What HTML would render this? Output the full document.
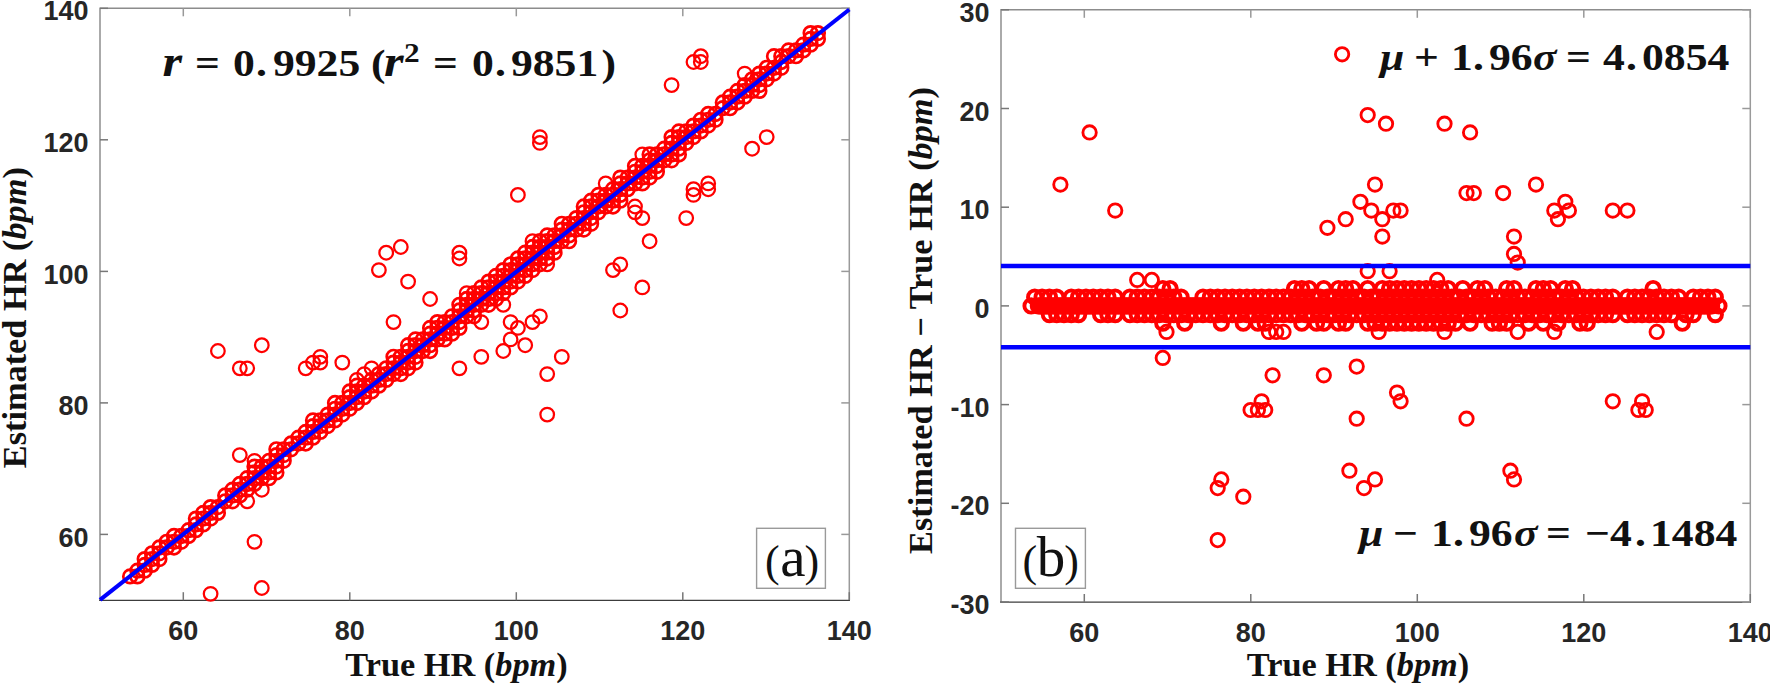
<!DOCTYPE html>
<html><head><meta charset="utf-8"><title>HR plots</title>
<style>
html,body{margin:0;padding:0;background:#fff;}
svg{display:block;}
.tk{font-family:"Liberation Sans",sans-serif;font-weight:bold;font-size:27.0px;fill:#262626;}
.lb{font-family:"Liberation Serif",serif;font-weight:bold;font-size:34.3px;fill:#111;}
.eq{font-family:"Liberation Serif",serif;font-weight:bold;font-size:39px;fill:#111;}
.pn{font-family:"Liberation Serif",serif;font-size:44px;fill:#111;}
.c{fill:none;stroke:#f00;stroke-width:2.85;}
.b{stroke-width:3.9;}
.b2{stroke-width:2.7;}
.l{stroke-width:2.25;}
</style></head><body>
<svg width="1770" height="685" viewBox="0 0 1770 685">
<rect width="1770" height="685" fill="#fff"/>
<g fill="none" stroke-width="1.5"><path d="M99.3 8.3H850.0" stroke="#8c8c8c"/><path d="M849.3 8.3V600.2" stroke="#9a9a9a"/><path d="M100.0 8.3V600.2" stroke="#a6a6a6" stroke-width="1.9"/><path d="M99.1 600.4H850.0" stroke="#3c3c3c" stroke-width="1.3"/><path d="M183.3 8.3v8" stroke="#999"/><path d="M183.3 600.2v-8" stroke="#777"/><path d="M349.8 8.3v8" stroke="#999"/><path d="M349.8 600.2v-8" stroke="#777"/><path d="M516.3 8.3v8" stroke="#999"/><path d="M516.3 600.2v-8" stroke="#777"/><path d="M682.8 8.3v8" stroke="#999"/><path d="M682.8 600.2v-8" stroke="#777"/><path d="M849.3 8.3v8" stroke="#999"/><path d="M849.3 600.2v-8" stroke="#777"/><path d="M849.3 534.4h-8" stroke="#999"/><path d="M100.0 534.4h8" stroke="#777"/><path d="M849.3 402.9h-8" stroke="#999"/><path d="M100.0 402.9h8" stroke="#777"/><path d="M849.3 271.4h-8" stroke="#999"/><path d="M100.0 271.4h8" stroke="#777"/><path d="M849.3 139.8h-8" stroke="#999"/><path d="M100.0 139.8h8" stroke="#777"/><path d="M849.3 8.3h-8" stroke="#999"/><path d="M100.0 8.3h8" stroke="#777"/></g>
<text class="tk" x="183.3" y="639.7" text-anchor="middle">60</text><text class="tk" x="349.8" y="639.7" text-anchor="middle">80</text><text class="tk" x="516.3" y="639.7" text-anchor="middle">100</text><text class="tk" x="682.8" y="639.7" text-anchor="middle">120</text><text class="tk" x="849.3" y="639.7" text-anchor="middle">140</text><text class="tk" x="88.5" y="546.5" text-anchor="end">60</text><text class="tk" x="88.5" y="415.0" text-anchor="end">80</text><text class="tk" x="88.5" y="283.5" text-anchor="end">100</text><text class="tk" x="88.5" y="151.9" text-anchor="end">120</text><text class="tk" x="88.5" y="20.4" text-anchor="end">140</text>
<g fill="none" stroke-width="1.5"><path d="M1000.3 9.8H1751.0" stroke="#8c8c8c"/><path d="M1750.3 9.8V602.0" stroke="#9a9a9a"/><path d="M1001.0 9.8V602.0" stroke="#a6a6a6" stroke-width="1.9"/><path d="M1000.1 602.2H1751.0" stroke="#3c3c3c" stroke-width="1.3"/><path d="M1084.3 9.8v8" stroke="#999"/><path d="M1084.3 602.0v-8" stroke="#777"/><path d="M1250.8 9.8v8" stroke="#999"/><path d="M1250.8 602.0v-8" stroke="#777"/><path d="M1417.3 9.8v8" stroke="#999"/><path d="M1417.3 602.0v-8" stroke="#777"/><path d="M1583.8 9.8v8" stroke="#999"/><path d="M1583.8 602.0v-8" stroke="#777"/><path d="M1750.3 9.8v8" stroke="#999"/><path d="M1750.3 602.0v-8" stroke="#777"/><path d="M1750.3 602.0h-8" stroke="#999"/><path d="M1001.0 602.0h8" stroke="#777"/><path d="M1750.3 503.3h-8" stroke="#999"/><path d="M1001.0 503.3h8" stroke="#777"/><path d="M1750.3 404.6h-8" stroke="#999"/><path d="M1001.0 404.6h8" stroke="#777"/><path d="M1750.3 305.9h-8" stroke="#999"/><path d="M1001.0 305.9h8" stroke="#777"/><path d="M1750.3 207.2h-8" stroke="#999"/><path d="M1001.0 207.2h8" stroke="#777"/><path d="M1750.3 108.5h-8" stroke="#999"/><path d="M1001.0 108.5h8" stroke="#777"/><path d="M1750.3 9.8h-8" stroke="#999"/><path d="M1001.0 9.8h8" stroke="#777"/></g>
<text class="tk" x="1084.3" y="641.5" text-anchor="middle">60</text><text class="tk" x="1250.8" y="641.5" text-anchor="middle">80</text><text class="tk" x="1417.3" y="641.5" text-anchor="middle">100</text><text class="tk" x="1583.8" y="641.5" text-anchor="middle">120</text><text class="tk" x="1750.3" y="641.5" text-anchor="middle">140</text><text class="tk" x="989.5" y="614.1" text-anchor="end">-30</text><text class="tk" x="989.5" y="515.4" text-anchor="end">-20</text><text class="tk" x="989.5" y="416.7" text-anchor="end">-10</text><text class="tk" x="989.5" y="318.0" text-anchor="end">0</text><text class="tk" x="989.5" y="219.3" text-anchor="end">10</text><text class="tk" x="989.5" y="120.6" text-anchor="end">20</text><text class="tk" x="989.5" y="21.9" text-anchor="end">30</text>
<g class="c b2"><circle cx="130.1" cy="576.4" r="6.8"/><circle cx="137.4" cy="576.4" r="6.8"/><circle cx="137.4" cy="570.7" r="6.8"/><circle cx="144.7" cy="570.7" r="6.8"/><circle cx="144.7" cy="564.9" r="6.8"/><circle cx="144.7" cy="559.1" r="6.8"/><circle cx="152.0" cy="564.9" r="6.8"/><circle cx="152.0" cy="559.1" r="6.8"/><circle cx="152.0" cy="553.3" r="6.8"/><circle cx="159.4" cy="559.1" r="6.8"/><circle cx="159.4" cy="553.3" r="6.8"/><circle cx="159.4" cy="547.5" r="6.8"/><circle cx="166.7" cy="547.5" r="6.8"/><circle cx="166.7" cy="541.8" r="6.8"/><circle cx="174.0" cy="547.5" r="6.8"/><circle cx="174.0" cy="541.8" r="6.8"/><circle cx="174.0" cy="536.0" r="6.8"/><circle cx="181.3" cy="541.8" r="6.8"/><circle cx="181.3" cy="536.0" r="6.8"/><circle cx="188.6" cy="536.0" r="6.8"/><circle cx="188.6" cy="530.2" r="6.8"/><circle cx="195.9" cy="530.2" r="6.8"/><circle cx="195.9" cy="524.4" r="6.8"/><circle cx="195.9" cy="518.6" r="6.8"/><circle cx="203.3" cy="524.4" r="6.8"/><circle cx="203.3" cy="518.6" r="6.8"/><circle cx="203.3" cy="512.9" r="6.8"/><circle cx="210.6" cy="518.6" r="6.8"/><circle cx="210.6" cy="512.9" r="6.8"/><circle cx="210.6" cy="507.1" r="6.8"/><circle cx="217.9" cy="512.9" r="6.8"/><circle cx="217.9" cy="507.1" r="6.8"/><circle cx="225.2" cy="501.3" r="6.8"/><circle cx="225.2" cy="495.5" r="6.8"/><circle cx="232.5" cy="501.3" r="6.8"/><circle cx="232.5" cy="495.5" r="6.8"/><circle cx="232.5" cy="489.7" r="6.8"/><circle cx="239.8" cy="495.5" r="6.8"/><circle cx="239.8" cy="489.7" r="6.8"/><circle cx="239.8" cy="484.0" r="6.8"/><circle cx="247.2" cy="489.7" r="6.8"/><circle cx="247.2" cy="484.0" r="6.8"/><circle cx="247.2" cy="478.2" r="6.8"/><circle cx="254.5" cy="484.0" r="6.8"/><circle cx="254.5" cy="478.2" r="6.8"/><circle cx="254.5" cy="472.4" r="6.8"/><circle cx="254.5" cy="466.6" r="6.8"/><circle cx="261.8" cy="478.2" r="6.8"/><circle cx="261.8" cy="472.4" r="6.8"/><circle cx="261.8" cy="466.6" r="6.8"/><circle cx="269.1" cy="478.2" r="6.8"/><circle cx="269.1" cy="472.4" r="6.8"/><circle cx="269.1" cy="466.6" r="6.8"/><circle cx="269.1" cy="460.8" r="6.8"/><circle cx="276.4" cy="472.4" r="6.8"/><circle cx="276.4" cy="466.6" r="6.8"/><circle cx="276.4" cy="460.8" r="6.8"/><circle cx="276.4" cy="455.1" r="6.8"/><circle cx="276.4" cy="449.3" r="6.8"/><circle cx="283.7" cy="460.8" r="6.8"/><circle cx="283.7" cy="455.1" r="6.8"/><circle cx="283.7" cy="449.3" r="6.8"/><circle cx="291.1" cy="449.3" r="6.8"/><circle cx="291.1" cy="443.5" r="6.8"/><circle cx="298.4" cy="443.5" r="6.8"/><circle cx="298.4" cy="437.7" r="6.8"/><circle cx="305.7" cy="443.5" r="6.8"/><circle cx="305.7" cy="437.7" r="6.8"/><circle cx="305.7" cy="431.9" r="6.8"/><circle cx="313.0" cy="437.7" r="6.8"/><circle cx="313.0" cy="431.9" r="6.8"/><circle cx="313.0" cy="426.1" r="6.8"/><circle cx="313.0" cy="420.4" r="6.8"/><circle cx="320.3" cy="431.9" r="6.8"/><circle cx="320.3" cy="426.1" r="6.8"/><circle cx="320.3" cy="420.4" r="6.8"/><circle cx="327.7" cy="426.1" r="6.8"/><circle cx="327.7" cy="420.4" r="6.8"/><circle cx="327.7" cy="414.6" r="6.8"/><circle cx="335.0" cy="420.4" r="6.8"/><circle cx="335.0" cy="414.6" r="6.8"/><circle cx="335.0" cy="408.8" r="6.8"/><circle cx="335.0" cy="403.0" r="6.8"/><circle cx="342.3" cy="414.6" r="6.8"/><circle cx="342.3" cy="408.8" r="6.8"/><circle cx="342.3" cy="403.0" r="6.8"/><circle cx="349.6" cy="408.8" r="6.8"/><circle cx="349.6" cy="403.0" r="6.8"/><circle cx="349.6" cy="397.2" r="6.8"/><circle cx="349.6" cy="391.5" r="6.8"/><circle cx="356.9" cy="403.0" r="6.8"/><circle cx="356.9" cy="397.2" r="6.8"/><circle cx="356.9" cy="391.5" r="6.8"/><circle cx="356.9" cy="385.7" r="6.8"/><circle cx="364.2" cy="397.2" r="6.8"/><circle cx="364.2" cy="391.5" r="6.8"/><circle cx="364.2" cy="385.7" r="6.8"/><circle cx="371.6" cy="391.5" r="6.8"/><circle cx="371.6" cy="385.7" r="6.8"/><circle cx="371.6" cy="379.9" r="6.8"/><circle cx="378.9" cy="385.7" r="6.8"/><circle cx="378.9" cy="379.9" r="6.8"/><circle cx="378.9" cy="374.1" r="6.8"/><circle cx="386.2" cy="379.9" r="6.8"/><circle cx="386.2" cy="374.1" r="6.8"/><circle cx="386.2" cy="368.3" r="6.8"/><circle cx="393.5" cy="374.1" r="6.8"/><circle cx="393.5" cy="368.3" r="6.8"/><circle cx="393.5" cy="362.6" r="6.8"/><circle cx="393.5" cy="356.8" r="6.8"/><circle cx="400.8" cy="374.1" r="6.8"/><circle cx="400.8" cy="368.3" r="6.8"/><circle cx="400.8" cy="362.6" r="6.8"/><circle cx="400.8" cy="356.8" r="6.8"/><circle cx="408.1" cy="368.3" r="6.8"/><circle cx="408.1" cy="362.6" r="6.8"/><circle cx="408.1" cy="356.8" r="6.8"/><circle cx="408.1" cy="351.0" r="6.8"/><circle cx="408.1" cy="345.2" r="6.8"/><circle cx="415.5" cy="362.6" r="6.8"/><circle cx="415.5" cy="356.8" r="6.8"/><circle cx="415.5" cy="351.0" r="6.8"/><circle cx="415.5" cy="345.2" r="6.8"/><circle cx="415.5" cy="339.4" r="6.8"/><circle cx="422.8" cy="351.0" r="6.8"/><circle cx="422.8" cy="345.2" r="6.8"/><circle cx="422.8" cy="339.4" r="6.8"/><circle cx="430.1" cy="351.0" r="6.8"/><circle cx="430.1" cy="345.2" r="6.8"/><circle cx="430.1" cy="339.4" r="6.8"/><circle cx="430.1" cy="333.7" r="6.8"/><circle cx="430.1" cy="327.9" r="6.8"/><circle cx="437.4" cy="339.4" r="6.8"/><circle cx="437.4" cy="333.7" r="6.8"/><circle cx="437.4" cy="327.9" r="6.8"/><circle cx="437.4" cy="322.1" r="6.8"/><circle cx="444.7" cy="339.4" r="6.8"/><circle cx="444.7" cy="333.7" r="6.8"/><circle cx="444.7" cy="327.9" r="6.8"/><circle cx="444.7" cy="322.1" r="6.8"/><circle cx="452.0" cy="333.7" r="6.8"/><circle cx="452.0" cy="327.9" r="6.8"/><circle cx="452.0" cy="322.1" r="6.8"/><circle cx="452.0" cy="316.3" r="6.8"/><circle cx="459.4" cy="327.9" r="6.8"/><circle cx="459.4" cy="322.1" r="6.8"/><circle cx="459.4" cy="316.3" r="6.8"/><circle cx="459.4" cy="310.5" r="6.8"/><circle cx="459.4" cy="304.8" r="6.8"/><circle cx="466.7" cy="316.3" r="6.8"/><circle cx="466.7" cy="310.5" r="6.8"/><circle cx="466.7" cy="304.8" r="6.8"/><circle cx="466.7" cy="299.0" r="6.8"/><circle cx="474.0" cy="316.3" r="6.8"/><circle cx="474.0" cy="310.5" r="6.8"/><circle cx="474.0" cy="304.8" r="6.8"/><circle cx="474.0" cy="299.0" r="6.8"/><circle cx="474.0" cy="293.2" r="6.8"/><circle cx="481.3" cy="304.8" r="6.8"/><circle cx="481.3" cy="299.0" r="6.8"/><circle cx="481.3" cy="293.2" r="6.8"/><circle cx="481.3" cy="287.4" r="6.8"/><circle cx="488.6" cy="304.8" r="6.8"/><circle cx="488.6" cy="299.0" r="6.8"/><circle cx="488.6" cy="293.2" r="6.8"/><circle cx="488.6" cy="287.4" r="6.8"/><circle cx="488.6" cy="281.6" r="6.8"/><circle cx="496.0" cy="299.0" r="6.8"/><circle cx="496.0" cy="293.2" r="6.8"/><circle cx="496.0" cy="287.4" r="6.8"/><circle cx="496.0" cy="281.6" r="6.8"/><circle cx="496.0" cy="275.9" r="6.8"/><circle cx="503.3" cy="293.2" r="6.8"/><circle cx="503.3" cy="287.4" r="6.8"/><circle cx="503.3" cy="281.6" r="6.8"/><circle cx="503.3" cy="275.9" r="6.8"/><circle cx="503.3" cy="270.1" r="6.8"/><circle cx="510.6" cy="287.4" r="6.8"/><circle cx="510.6" cy="281.6" r="6.8"/><circle cx="510.6" cy="275.9" r="6.8"/><circle cx="510.6" cy="270.1" r="6.8"/><circle cx="510.6" cy="264.3" r="6.8"/><circle cx="517.9" cy="281.6" r="6.8"/><circle cx="517.9" cy="275.9" r="6.8"/><circle cx="517.9" cy="270.1" r="6.8"/><circle cx="517.9" cy="264.3" r="6.8"/><circle cx="517.9" cy="258.5" r="6.8"/><circle cx="525.2" cy="275.9" r="6.8"/><circle cx="525.2" cy="270.1" r="6.8"/><circle cx="525.2" cy="264.3" r="6.8"/><circle cx="525.2" cy="258.5" r="6.8"/><circle cx="525.2" cy="252.7" r="6.8"/><circle cx="532.5" cy="270.1" r="6.8"/><circle cx="532.5" cy="264.3" r="6.8"/><circle cx="532.5" cy="258.5" r="6.8"/><circle cx="532.5" cy="252.7" r="6.8"/><circle cx="532.5" cy="247.0" r="6.8"/><circle cx="539.9" cy="264.3" r="6.8"/><circle cx="539.9" cy="258.5" r="6.8"/><circle cx="539.9" cy="252.7" r="6.8"/><circle cx="539.9" cy="247.0" r="6.8"/><circle cx="539.9" cy="241.2" r="6.8"/><circle cx="547.2" cy="258.5" r="6.8"/><circle cx="547.2" cy="252.7" r="6.8"/><circle cx="547.2" cy="247.0" r="6.8"/><circle cx="547.2" cy="241.2" r="6.8"/><circle cx="547.2" cy="235.4" r="6.8"/><circle cx="554.5" cy="252.7" r="6.8"/><circle cx="554.5" cy="247.0" r="6.8"/><circle cx="554.5" cy="241.2" r="6.8"/><circle cx="554.5" cy="235.4" r="6.8"/><circle cx="561.8" cy="241.2" r="6.8"/><circle cx="561.8" cy="235.4" r="6.8"/><circle cx="561.8" cy="229.6" r="6.8"/><circle cx="561.8" cy="223.8" r="6.8"/><circle cx="569.1" cy="241.2" r="6.8"/><circle cx="569.1" cy="235.4" r="6.8"/><circle cx="569.1" cy="229.6" r="6.8"/><circle cx="569.1" cy="223.8" r="6.8"/><circle cx="576.4" cy="229.6" r="6.8"/><circle cx="576.4" cy="223.8" r="6.8"/><circle cx="576.4" cy="218.1" r="6.8"/><circle cx="583.8" cy="229.6" r="6.8"/><circle cx="583.8" cy="223.8" r="6.8"/><circle cx="583.8" cy="218.1" r="6.8"/><circle cx="583.8" cy="212.3" r="6.8"/><circle cx="583.8" cy="206.5" r="6.8"/><circle cx="591.1" cy="223.8" r="6.8"/><circle cx="591.1" cy="218.1" r="6.8"/><circle cx="591.1" cy="212.3" r="6.8"/><circle cx="591.1" cy="206.5" r="6.8"/><circle cx="591.1" cy="200.7" r="6.8"/><circle cx="598.4" cy="212.3" r="6.8"/><circle cx="598.4" cy="206.5" r="6.8"/><circle cx="598.4" cy="200.7" r="6.8"/><circle cx="598.4" cy="194.9" r="6.8"/><circle cx="605.7" cy="206.5" r="6.8"/><circle cx="605.7" cy="200.7" r="6.8"/><circle cx="605.7" cy="194.9" r="6.8"/><circle cx="613.0" cy="206.5" r="6.8"/><circle cx="613.0" cy="200.7" r="6.8"/><circle cx="613.0" cy="194.9" r="6.8"/><circle cx="613.0" cy="189.2" r="6.8"/><circle cx="620.3" cy="200.7" r="6.8"/><circle cx="620.3" cy="194.9" r="6.8"/><circle cx="620.3" cy="189.2" r="6.8"/><circle cx="620.3" cy="183.4" r="6.8"/><circle cx="620.3" cy="177.6" r="6.8"/><circle cx="627.7" cy="189.2" r="6.8"/><circle cx="627.7" cy="183.4" r="6.8"/><circle cx="627.7" cy="177.6" r="6.8"/><circle cx="635.0" cy="183.4" r="6.8"/><circle cx="635.0" cy="177.6" r="6.8"/><circle cx="635.0" cy="171.8" r="6.8"/><circle cx="635.0" cy="166.0" r="6.8"/><circle cx="642.3" cy="183.4" r="6.8"/><circle cx="642.3" cy="177.6" r="6.8"/><circle cx="642.3" cy="171.8" r="6.8"/><circle cx="642.3" cy="166.0" r="6.8"/><circle cx="649.6" cy="177.6" r="6.8"/><circle cx="649.6" cy="171.8" r="6.8"/><circle cx="649.6" cy="166.0" r="6.8"/><circle cx="649.6" cy="160.3" r="6.8"/><circle cx="649.6" cy="154.5" r="6.8"/><circle cx="656.9" cy="171.8" r="6.8"/><circle cx="656.9" cy="166.0" r="6.8"/><circle cx="656.9" cy="160.3" r="6.8"/><circle cx="656.9" cy="154.5" r="6.8"/><circle cx="664.3" cy="160.3" r="6.8"/><circle cx="664.3" cy="154.5" r="6.8"/><circle cx="664.3" cy="148.7" r="6.8"/><circle cx="671.6" cy="160.3" r="6.8"/><circle cx="671.6" cy="154.5" r="6.8"/><circle cx="671.6" cy="148.7" r="6.8"/><circle cx="671.6" cy="142.9" r="6.8"/><circle cx="671.6" cy="137.1" r="6.8"/><circle cx="678.9" cy="154.5" r="6.8"/><circle cx="678.9" cy="148.7" r="6.8"/><circle cx="678.9" cy="142.9" r="6.8"/><circle cx="678.9" cy="137.1" r="6.8"/><circle cx="678.9" cy="131.4" r="6.8"/><circle cx="686.2" cy="142.9" r="6.8"/><circle cx="686.2" cy="137.1" r="6.8"/><circle cx="686.2" cy="131.4" r="6.8"/><circle cx="693.5" cy="137.1" r="6.8"/><circle cx="693.5" cy="131.4" r="6.8"/><circle cx="693.5" cy="125.6" r="6.8"/><circle cx="700.8" cy="131.4" r="6.8"/><circle cx="700.8" cy="125.6" r="6.8"/><circle cx="700.8" cy="119.8" r="6.8"/><circle cx="708.2" cy="125.6" r="6.8"/><circle cx="708.2" cy="119.8" r="6.8"/><circle cx="708.2" cy="114.0" r="6.8"/><circle cx="715.5" cy="119.8" r="6.8"/><circle cx="715.5" cy="114.0" r="6.8"/><circle cx="722.8" cy="108.2" r="6.8"/><circle cx="722.8" cy="102.5" r="6.8"/><circle cx="730.1" cy="108.2" r="6.8"/><circle cx="730.1" cy="102.5" r="6.8"/><circle cx="730.1" cy="96.7" r="6.8"/><circle cx="737.4" cy="102.5" r="6.8"/><circle cx="737.4" cy="96.7" r="6.8"/><circle cx="737.4" cy="90.9" r="6.8"/><circle cx="744.7" cy="96.7" r="6.8"/><circle cx="744.7" cy="90.9" r="6.8"/><circle cx="744.7" cy="85.1" r="6.8"/><circle cx="752.1" cy="90.9" r="6.8"/><circle cx="752.1" cy="85.1" r="6.8"/><circle cx="752.1" cy="79.3" r="6.8"/><circle cx="759.4" cy="90.9" r="6.8"/><circle cx="759.4" cy="85.1" r="6.8"/><circle cx="759.4" cy="79.3" r="6.8"/><circle cx="759.4" cy="73.6" r="6.8"/><circle cx="766.7" cy="79.3" r="6.8"/><circle cx="766.7" cy="73.6" r="6.8"/><circle cx="766.7" cy="67.8" r="6.8"/><circle cx="774.0" cy="73.6" r="6.8"/><circle cx="774.0" cy="67.8" r="6.8"/><circle cx="774.0" cy="56.2" r="6.8"/><circle cx="781.3" cy="67.8" r="6.8"/><circle cx="781.3" cy="62.0" r="6.8"/><circle cx="781.3" cy="56.2" r="6.8"/><circle cx="788.6" cy="56.2" r="6.8"/><circle cx="788.6" cy="50.4" r="6.8"/><circle cx="796.0" cy="56.2" r="6.8"/><circle cx="796.0" cy="50.4" r="6.8"/><circle cx="803.3" cy="50.4" r="6.8"/><circle cx="803.3" cy="44.7" r="6.8"/><circle cx="810.6" cy="44.7" r="6.8"/><circle cx="810.6" cy="38.9" r="6.8"/><circle cx="810.6" cy="33.1" r="6.8"/><circle cx="817.9" cy="38.9" r="6.8"/><circle cx="817.9" cy="33.1" r="6.8"/></g>
<g class="c l"><circle cx="210.6" cy="593.8" r="6.8"/><circle cx="217.9" cy="351.0" r="6.8"/><circle cx="239.8" cy="455.1" r="6.8"/><circle cx="239.8" cy="368.3" r="6.8"/><circle cx="247.2" cy="501.3" r="6.8"/><circle cx="247.2" cy="368.3" r="6.8"/><circle cx="254.5" cy="541.8" r="6.8"/><circle cx="254.5" cy="460.8" r="6.8"/><circle cx="261.8" cy="588.0" r="6.8"/><circle cx="261.8" cy="489.7" r="6.8"/><circle cx="261.8" cy="345.2" r="6.8"/><circle cx="305.7" cy="368.3" r="6.8"/><circle cx="313.0" cy="362.6" r="6.8"/><circle cx="320.3" cy="362.6" r="6.8"/><circle cx="320.3" cy="356.8" r="6.8"/><circle cx="342.3" cy="362.6" r="6.8"/><circle cx="356.9" cy="379.9" r="6.8"/><circle cx="364.2" cy="374.1" r="6.8"/><circle cx="371.6" cy="368.3" r="6.8"/><circle cx="378.9" cy="270.1" r="6.8"/><circle cx="386.2" cy="252.7" r="6.8"/><circle cx="393.5" cy="322.1" r="6.8"/><circle cx="400.8" cy="247.0" r="6.8"/><circle cx="408.1" cy="281.6" r="6.8"/><circle cx="430.1" cy="299.0" r="6.8"/><circle cx="459.4" cy="368.3" r="6.8"/><circle cx="459.4" cy="258.5" r="6.8"/><circle cx="459.4" cy="252.7" r="6.8"/><circle cx="466.7" cy="293.2" r="6.8"/><circle cx="481.3" cy="356.8" r="6.8"/><circle cx="481.3" cy="322.1" r="6.8"/><circle cx="503.3" cy="351.0" r="6.8"/><circle cx="503.3" cy="304.8" r="6.8"/><circle cx="510.6" cy="339.4" r="6.8"/><circle cx="510.6" cy="322.1" r="6.8"/><circle cx="517.9" cy="327.9" r="6.8"/><circle cx="517.9" cy="194.9" r="6.8"/><circle cx="525.2" cy="345.2" r="6.8"/><circle cx="532.5" cy="322.1" r="6.8"/><circle cx="532.5" cy="241.2" r="6.8"/><circle cx="539.9" cy="316.3" r="6.8"/><circle cx="539.9" cy="142.9" r="6.8"/><circle cx="539.9" cy="137.1" r="6.8"/><circle cx="547.2" cy="414.6" r="6.8"/><circle cx="547.2" cy="374.1" r="6.8"/><circle cx="547.2" cy="264.3" r="6.8"/><circle cx="561.8" cy="356.8" r="6.8"/><circle cx="605.7" cy="183.4" r="6.8"/><circle cx="613.0" cy="270.1" r="6.8"/><circle cx="620.3" cy="310.5" r="6.8"/><circle cx="620.3" cy="264.3" r="6.8"/><circle cx="635.0" cy="212.3" r="6.8"/><circle cx="635.0" cy="206.5" r="6.8"/><circle cx="642.3" cy="287.4" r="6.8"/><circle cx="642.3" cy="218.1" r="6.8"/><circle cx="642.3" cy="154.5" r="6.8"/><circle cx="649.6" cy="241.2" r="6.8"/><circle cx="671.6" cy="85.1" r="6.8"/><circle cx="686.2" cy="218.1" r="6.8"/><circle cx="693.5" cy="194.9" r="6.8"/><circle cx="693.5" cy="189.2" r="6.8"/><circle cx="693.5" cy="62.0" r="6.8"/><circle cx="700.8" cy="62.0" r="6.8"/><circle cx="700.8" cy="56.2" r="6.8"/><circle cx="708.2" cy="189.2" r="6.8"/><circle cx="708.2" cy="183.4" r="6.8"/><circle cx="744.7" cy="73.6" r="6.8"/><circle cx="752.1" cy="148.7" r="6.8"/><circle cx="766.7" cy="137.1" r="6.8"/></g>
<path d="M100.0 599.8L849.3 9.5" stroke="#0000ff" stroke-width="4.1" fill="none"/>
<g class="c b"><circle cx="1031.1" cy="305.9" r="6.7"/><circle cx="1034.7" cy="297.2" r="6.7"/><circle cx="1038.4" cy="305.9" r="6.7"/><circle cx="1040.2" cy="305.9" r="6.7"/><circle cx="1042.1" cy="305.9" r="6.7"/><circle cx="1043.9" cy="305.9" r="6.7"/><circle cx="1042.1" cy="297.2" r="6.7"/><circle cx="1045.7" cy="305.9" r="6.7"/><circle cx="1049.4" cy="314.6" r="6.7"/><circle cx="1047.5" cy="305.9" r="6.7"/><circle cx="1049.4" cy="305.9" r="6.7"/><circle cx="1051.2" cy="305.9" r="6.7"/><circle cx="1049.4" cy="297.2" r="6.7"/><circle cx="1053.0" cy="305.9" r="6.7"/><circle cx="1056.7" cy="314.6" r="6.7"/><circle cx="1054.9" cy="305.9" r="6.7"/><circle cx="1056.7" cy="305.9" r="6.7"/><circle cx="1058.5" cy="305.9" r="6.7"/><circle cx="1056.7" cy="297.2" r="6.7"/><circle cx="1060.4" cy="305.9" r="6.7"/><circle cx="1064.0" cy="314.6" r="6.7"/><circle cx="1062.2" cy="305.9" r="6.7"/><circle cx="1064.0" cy="305.9" r="6.7"/><circle cx="1065.8" cy="305.9" r="6.7"/><circle cx="1067.7" cy="305.9" r="6.7"/><circle cx="1071.3" cy="314.6" r="6.7"/><circle cx="1069.5" cy="305.9" r="6.7"/><circle cx="1071.3" cy="305.9" r="6.7"/><circle cx="1073.2" cy="305.9" r="6.7"/><circle cx="1071.3" cy="297.2" r="6.7"/><circle cx="1075.0" cy="305.9" r="6.7"/><circle cx="1078.6" cy="314.6" r="6.7"/><circle cx="1076.8" cy="305.9" r="6.7"/><circle cx="1078.6" cy="305.9" r="6.7"/><circle cx="1080.5" cy="305.9" r="6.7"/><circle cx="1078.6" cy="297.2" r="6.7"/><circle cx="1082.3" cy="305.9" r="6.7"/><circle cx="1084.1" cy="305.9" r="6.7"/><circle cx="1086.0" cy="305.9" r="6.7"/><circle cx="1087.8" cy="305.9" r="6.7"/><circle cx="1086.0" cy="297.2" r="6.7"/><circle cx="1089.6" cy="305.9" r="6.7"/><circle cx="1091.5" cy="305.9" r="6.7"/><circle cx="1093.3" cy="305.9" r="6.7"/><circle cx="1095.1" cy="305.9" r="6.7"/><circle cx="1093.3" cy="297.2" r="6.7"/><circle cx="1096.9" cy="305.9" r="6.7"/><circle cx="1100.6" cy="314.6" r="6.7"/><circle cx="1098.8" cy="305.9" r="6.7"/><circle cx="1100.6" cy="305.9" r="6.7"/><circle cx="1102.4" cy="305.9" r="6.7"/><circle cx="1100.6" cy="297.2" r="6.7"/><circle cx="1104.3" cy="305.9" r="6.7"/><circle cx="1107.9" cy="314.6" r="6.7"/><circle cx="1106.1" cy="305.9" r="6.7"/><circle cx="1107.9" cy="305.9" r="6.7"/><circle cx="1109.7" cy="305.9" r="6.7"/><circle cx="1107.9" cy="297.2" r="6.7"/><circle cx="1111.6" cy="305.9" r="6.7"/><circle cx="1115.2" cy="314.6" r="6.7"/><circle cx="1113.4" cy="305.9" r="6.7"/><circle cx="1115.2" cy="305.9" r="6.7"/><circle cx="1117.1" cy="305.9" r="6.7"/><circle cx="1115.2" cy="297.2" r="6.7"/><circle cx="1118.9" cy="305.9" r="6.7"/><circle cx="1120.7" cy="305.9" r="6.7"/><circle cx="1122.5" cy="305.9" r="6.7"/><circle cx="1124.4" cy="305.9" r="6.7"/><circle cx="1126.2" cy="305.9" r="6.7"/><circle cx="1129.9" cy="314.6" r="6.7"/><circle cx="1128.0" cy="305.9" r="6.7"/><circle cx="1129.9" cy="305.9" r="6.7"/><circle cx="1131.7" cy="305.9" r="6.7"/><circle cx="1129.9" cy="297.2" r="6.7"/><circle cx="1133.5" cy="305.9" r="6.7"/><circle cx="1137.2" cy="314.6" r="6.7"/><circle cx="1135.4" cy="305.9" r="6.7"/><circle cx="1137.2" cy="305.9" r="6.7"/><circle cx="1139.0" cy="305.9" r="6.7"/><circle cx="1137.2" cy="297.2" r="6.7"/><circle cx="1140.8" cy="305.9" r="6.7"/><circle cx="1144.5" cy="314.6" r="6.7"/><circle cx="1142.7" cy="305.9" r="6.7"/><circle cx="1144.5" cy="305.9" r="6.7"/><circle cx="1146.3" cy="305.9" r="6.7"/><circle cx="1144.5" cy="297.2" r="6.7"/><circle cx="1148.2" cy="305.9" r="6.7"/><circle cx="1151.8" cy="314.6" r="6.7"/><circle cx="1150.0" cy="305.9" r="6.7"/><circle cx="1151.8" cy="305.9" r="6.7"/><circle cx="1153.6" cy="305.9" r="6.7"/><circle cx="1151.8" cy="297.2" r="6.7"/><circle cx="1155.5" cy="305.9" r="6.7"/><circle cx="1159.1" cy="314.6" r="6.7"/><circle cx="1162.8" cy="323.2" r="6.7"/><circle cx="1157.3" cy="305.9" r="6.7"/><circle cx="1159.1" cy="305.9" r="6.7"/><circle cx="1161.0" cy="305.9" r="6.7"/><circle cx="1159.1" cy="297.2" r="6.7"/><circle cx="1162.8" cy="305.9" r="6.7"/><circle cx="1166.5" cy="314.6" r="6.7"/><circle cx="1164.6" cy="305.9" r="6.7"/><circle cx="1166.5" cy="305.9" r="6.7"/><circle cx="1168.3" cy="305.9" r="6.7"/><circle cx="1162.8" cy="288.6" r="6.7"/><circle cx="1166.5" cy="297.2" r="6.7"/><circle cx="1170.1" cy="305.9" r="6.7"/><circle cx="1173.8" cy="314.6" r="6.7"/><circle cx="1171.9" cy="305.9" r="6.7"/><circle cx="1173.8" cy="305.9" r="6.7"/><circle cx="1175.6" cy="305.9" r="6.7"/><circle cx="1170.1" cy="288.6" r="6.7"/><circle cx="1173.8" cy="297.2" r="6.7"/><circle cx="1177.4" cy="305.9" r="6.7"/><circle cx="1181.1" cy="314.6" r="6.7"/><circle cx="1184.7" cy="323.2" r="6.7"/><circle cx="1179.3" cy="305.9" r="6.7"/><circle cx="1181.1" cy="305.9" r="6.7"/><circle cx="1182.9" cy="305.9" r="6.7"/><circle cx="1181.1" cy="297.2" r="6.7"/><circle cx="1184.7" cy="305.9" r="6.7"/><circle cx="1188.4" cy="314.6" r="6.7"/><circle cx="1186.6" cy="305.9" r="6.7"/><circle cx="1188.4" cy="305.9" r="6.7"/><circle cx="1190.2" cy="305.9" r="6.7"/><circle cx="1192.1" cy="305.9" r="6.7"/><circle cx="1195.7" cy="314.6" r="6.7"/><circle cx="1193.9" cy="305.9" r="6.7"/><circle cx="1195.7" cy="305.9" r="6.7"/><circle cx="1197.6" cy="305.9" r="6.7"/><circle cx="1199.4" cy="305.9" r="6.7"/><circle cx="1203.0" cy="314.6" r="6.7"/><circle cx="1201.2" cy="305.9" r="6.7"/><circle cx="1203.0" cy="305.9" r="6.7"/><circle cx="1204.9" cy="305.9" r="6.7"/><circle cx="1203.0" cy="297.2" r="6.7"/><circle cx="1206.7" cy="305.9" r="6.7"/><circle cx="1210.4" cy="314.6" r="6.7"/><circle cx="1208.5" cy="305.9" r="6.7"/><circle cx="1210.4" cy="305.9" r="6.7"/><circle cx="1212.2" cy="305.9" r="6.7"/><circle cx="1210.4" cy="297.2" r="6.7"/><circle cx="1214.0" cy="305.9" r="6.7"/><circle cx="1217.7" cy="314.6" r="6.7"/><circle cx="1221.3" cy="323.2" r="6.7"/><circle cx="1215.8" cy="305.9" r="6.7"/><circle cx="1217.7" cy="305.9" r="6.7"/><circle cx="1219.5" cy="305.9" r="6.7"/><circle cx="1217.7" cy="297.2" r="6.7"/><circle cx="1221.3" cy="305.9" r="6.7"/><circle cx="1225.0" cy="314.6" r="6.7"/><circle cx="1223.2" cy="305.9" r="6.7"/><circle cx="1225.0" cy="305.9" r="6.7"/><circle cx="1226.8" cy="305.9" r="6.7"/><circle cx="1225.0" cy="297.2" r="6.7"/><circle cx="1228.7" cy="305.9" r="6.7"/><circle cx="1232.3" cy="314.6" r="6.7"/><circle cx="1230.5" cy="305.9" r="6.7"/><circle cx="1232.3" cy="305.9" r="6.7"/><circle cx="1234.1" cy="305.9" r="6.7"/><circle cx="1232.3" cy="297.2" r="6.7"/><circle cx="1236.0" cy="305.9" r="6.7"/><circle cx="1239.6" cy="314.6" r="6.7"/><circle cx="1243.3" cy="323.2" r="6.7"/><circle cx="1237.8" cy="305.9" r="6.7"/><circle cx="1239.6" cy="305.9" r="6.7"/><circle cx="1241.5" cy="305.9" r="6.7"/><circle cx="1239.6" cy="297.2" r="6.7"/><circle cx="1243.3" cy="305.9" r="6.7"/><circle cx="1246.9" cy="314.6" r="6.7"/><circle cx="1245.1" cy="305.9" r="6.7"/><circle cx="1246.9" cy="305.9" r="6.7"/><circle cx="1248.8" cy="305.9" r="6.7"/><circle cx="1246.9" cy="297.2" r="6.7"/><circle cx="1250.6" cy="305.9" r="6.7"/><circle cx="1254.3" cy="314.6" r="6.7"/><circle cx="1257.9" cy="323.2" r="6.7"/><circle cx="1252.4" cy="305.9" r="6.7"/><circle cx="1254.3" cy="305.9" r="6.7"/><circle cx="1256.1" cy="305.9" r="6.7"/><circle cx="1254.3" cy="297.2" r="6.7"/><circle cx="1257.9" cy="305.9" r="6.7"/><circle cx="1261.6" cy="314.6" r="6.7"/><circle cx="1265.2" cy="323.2" r="6.7"/><circle cx="1259.8" cy="305.9" r="6.7"/><circle cx="1261.6" cy="305.9" r="6.7"/><circle cx="1263.4" cy="305.9" r="6.7"/><circle cx="1261.6" cy="297.2" r="6.7"/><circle cx="1265.2" cy="305.9" r="6.7"/><circle cx="1268.9" cy="314.6" r="6.7"/><circle cx="1267.1" cy="305.9" r="6.7"/><circle cx="1268.9" cy="305.9" r="6.7"/><circle cx="1270.7" cy="305.9" r="6.7"/><circle cx="1268.9" cy="297.2" r="6.7"/><circle cx="1272.6" cy="305.9" r="6.7"/><circle cx="1276.2" cy="314.6" r="6.7"/><circle cx="1274.4" cy="305.9" r="6.7"/><circle cx="1276.2" cy="305.9" r="6.7"/><circle cx="1278.0" cy="305.9" r="6.7"/><circle cx="1276.2" cy="297.2" r="6.7"/><circle cx="1279.9" cy="305.9" r="6.7"/><circle cx="1283.5" cy="314.6" r="6.7"/><circle cx="1281.7" cy="305.9" r="6.7"/><circle cx="1283.5" cy="305.9" r="6.7"/><circle cx="1285.4" cy="305.9" r="6.7"/><circle cx="1283.5" cy="297.2" r="6.7"/><circle cx="1287.2" cy="305.9" r="6.7"/><circle cx="1290.8" cy="314.6" r="6.7"/><circle cx="1289.0" cy="305.9" r="6.7"/><circle cx="1290.8" cy="305.9" r="6.7"/><circle cx="1292.7" cy="305.9" r="6.7"/><circle cx="1290.8" cy="297.2" r="6.7"/><circle cx="1294.5" cy="305.9" r="6.7"/><circle cx="1298.2" cy="314.6" r="6.7"/><circle cx="1301.8" cy="323.2" r="6.7"/><circle cx="1296.3" cy="305.9" r="6.7"/><circle cx="1298.2" cy="305.9" r="6.7"/><circle cx="1300.0" cy="305.9" r="6.7"/><circle cx="1294.5" cy="288.6" r="6.7"/><circle cx="1298.2" cy="297.2" r="6.7"/><circle cx="1301.8" cy="305.9" r="6.7"/><circle cx="1305.5" cy="314.6" r="6.7"/><circle cx="1303.7" cy="305.9" r="6.7"/><circle cx="1305.5" cy="305.9" r="6.7"/><circle cx="1307.3" cy="305.9" r="6.7"/><circle cx="1301.8" cy="288.6" r="6.7"/><circle cx="1305.5" cy="297.2" r="6.7"/><circle cx="1309.1" cy="305.9" r="6.7"/><circle cx="1312.8" cy="314.6" r="6.7"/><circle cx="1316.5" cy="323.2" r="6.7"/><circle cx="1311.0" cy="305.9" r="6.7"/><circle cx="1312.8" cy="305.9" r="6.7"/><circle cx="1314.6" cy="305.9" r="6.7"/><circle cx="1309.1" cy="288.6" r="6.7"/><circle cx="1312.8" cy="297.2" r="6.7"/><circle cx="1316.5" cy="305.9" r="6.7"/><circle cx="1320.1" cy="314.6" r="6.7"/><circle cx="1323.8" cy="323.2" r="6.7"/><circle cx="1318.3" cy="305.9" r="6.7"/><circle cx="1320.1" cy="305.9" r="6.7"/><circle cx="1321.9" cy="305.9" r="6.7"/><circle cx="1320.1" cy="297.2" r="6.7"/><circle cx="1323.8" cy="305.9" r="6.7"/><circle cx="1327.4" cy="314.6" r="6.7"/><circle cx="1325.6" cy="305.9" r="6.7"/><circle cx="1327.4" cy="305.9" r="6.7"/><circle cx="1329.3" cy="305.9" r="6.7"/><circle cx="1323.8" cy="288.6" r="6.7"/><circle cx="1327.4" cy="297.2" r="6.7"/><circle cx="1331.1" cy="305.9" r="6.7"/><circle cx="1334.8" cy="314.6" r="6.7"/><circle cx="1338.4" cy="323.2" r="6.7"/><circle cx="1332.9" cy="305.9" r="6.7"/><circle cx="1334.8" cy="305.9" r="6.7"/><circle cx="1336.6" cy="305.9" r="6.7"/><circle cx="1334.8" cy="297.2" r="6.7"/><circle cx="1338.4" cy="305.9" r="6.7"/><circle cx="1342.1" cy="314.6" r="6.7"/><circle cx="1345.7" cy="323.2" r="6.7"/><circle cx="1340.2" cy="305.9" r="6.7"/><circle cx="1342.1" cy="305.9" r="6.7"/><circle cx="1343.9" cy="305.9" r="6.7"/><circle cx="1338.4" cy="288.6" r="6.7"/><circle cx="1342.1" cy="297.2" r="6.7"/><circle cx="1345.7" cy="305.9" r="6.7"/><circle cx="1349.4" cy="314.6" r="6.7"/><circle cx="1347.6" cy="305.9" r="6.7"/><circle cx="1349.4" cy="305.9" r="6.7"/><circle cx="1351.2" cy="305.9" r="6.7"/><circle cx="1345.7" cy="288.6" r="6.7"/><circle cx="1349.4" cy="297.2" r="6.7"/><circle cx="1353.0" cy="305.9" r="6.7"/><circle cx="1356.7" cy="314.6" r="6.7"/><circle cx="1354.9" cy="305.9" r="6.7"/><circle cx="1356.7" cy="305.9" r="6.7"/><circle cx="1358.5" cy="305.9" r="6.7"/><circle cx="1353.0" cy="288.6" r="6.7"/><circle cx="1356.7" cy="297.2" r="6.7"/><circle cx="1360.4" cy="305.9" r="6.7"/><circle cx="1364.0" cy="314.6" r="6.7"/><circle cx="1367.7" cy="323.2" r="6.7"/><circle cx="1362.2" cy="305.9" r="6.7"/><circle cx="1364.0" cy="305.9" r="6.7"/><circle cx="1365.9" cy="305.9" r="6.7"/><circle cx="1364.0" cy="297.2" r="6.7"/><circle cx="1367.7" cy="305.9" r="6.7"/><circle cx="1371.3" cy="314.6" r="6.7"/><circle cx="1375.0" cy="323.2" r="6.7"/><circle cx="1369.5" cy="305.9" r="6.7"/><circle cx="1371.3" cy="305.9" r="6.7"/><circle cx="1373.2" cy="305.9" r="6.7"/><circle cx="1367.7" cy="288.6" r="6.7"/><circle cx="1371.3" cy="297.2" r="6.7"/><circle cx="1375.0" cy="305.9" r="6.7"/><circle cx="1378.7" cy="314.6" r="6.7"/><circle cx="1382.3" cy="323.2" r="6.7"/><circle cx="1376.8" cy="305.9" r="6.7"/><circle cx="1378.7" cy="305.9" r="6.7"/><circle cx="1380.5" cy="305.9" r="6.7"/><circle cx="1378.7" cy="297.2" r="6.7"/><circle cx="1382.3" cy="305.9" r="6.7"/><circle cx="1386.0" cy="314.6" r="6.7"/><circle cx="1389.6" cy="323.2" r="6.7"/><circle cx="1384.1" cy="305.9" r="6.7"/><circle cx="1386.0" cy="305.9" r="6.7"/><circle cx="1387.8" cy="305.9" r="6.7"/><circle cx="1382.3" cy="288.6" r="6.7"/><circle cx="1386.0" cy="297.2" r="6.7"/><circle cx="1389.6" cy="305.9" r="6.7"/><circle cx="1393.3" cy="314.6" r="6.7"/><circle cx="1397.0" cy="323.2" r="6.7"/><circle cx="1391.5" cy="305.9" r="6.7"/><circle cx="1393.3" cy="305.9" r="6.7"/><circle cx="1395.1" cy="305.9" r="6.7"/><circle cx="1389.6" cy="288.6" r="6.7"/><circle cx="1393.3" cy="297.2" r="6.7"/><circle cx="1397.0" cy="305.9" r="6.7"/><circle cx="1400.6" cy="314.6" r="6.7"/><circle cx="1404.3" cy="323.2" r="6.7"/><circle cx="1398.8" cy="305.9" r="6.7"/><circle cx="1400.6" cy="305.9" r="6.7"/><circle cx="1402.4" cy="305.9" r="6.7"/><circle cx="1397.0" cy="288.6" r="6.7"/><circle cx="1400.6" cy="297.2" r="6.7"/><circle cx="1404.3" cy="305.9" r="6.7"/><circle cx="1407.9" cy="314.6" r="6.7"/><circle cx="1411.6" cy="323.2" r="6.7"/><circle cx="1406.1" cy="305.9" r="6.7"/><circle cx="1407.9" cy="305.9" r="6.7"/><circle cx="1409.8" cy="305.9" r="6.7"/><circle cx="1404.3" cy="288.6" r="6.7"/><circle cx="1407.9" cy="297.2" r="6.7"/><circle cx="1411.6" cy="305.9" r="6.7"/><circle cx="1415.2" cy="314.6" r="6.7"/><circle cx="1418.9" cy="323.2" r="6.7"/><circle cx="1413.4" cy="305.9" r="6.7"/><circle cx="1415.2" cy="305.9" r="6.7"/><circle cx="1417.1" cy="305.9" r="6.7"/><circle cx="1411.6" cy="288.6" r="6.7"/><circle cx="1415.2" cy="297.2" r="6.7"/><circle cx="1418.9" cy="305.9" r="6.7"/><circle cx="1422.6" cy="314.6" r="6.7"/><circle cx="1426.2" cy="323.2" r="6.7"/><circle cx="1420.7" cy="305.9" r="6.7"/><circle cx="1422.6" cy="305.9" r="6.7"/><circle cx="1424.4" cy="305.9" r="6.7"/><circle cx="1418.9" cy="288.6" r="6.7"/><circle cx="1422.6" cy="297.2" r="6.7"/><circle cx="1426.2" cy="305.9" r="6.7"/><circle cx="1429.9" cy="314.6" r="6.7"/><circle cx="1433.5" cy="323.2" r="6.7"/><circle cx="1428.1" cy="305.9" r="6.7"/><circle cx="1429.9" cy="305.9" r="6.7"/><circle cx="1431.7" cy="305.9" r="6.7"/><circle cx="1426.2" cy="288.6" r="6.7"/><circle cx="1429.9" cy="297.2" r="6.7"/><circle cx="1433.5" cy="305.9" r="6.7"/><circle cx="1437.2" cy="314.6" r="6.7"/><circle cx="1440.9" cy="323.2" r="6.7"/><circle cx="1435.4" cy="305.9" r="6.7"/><circle cx="1437.2" cy="305.9" r="6.7"/><circle cx="1439.0" cy="305.9" r="6.7"/><circle cx="1433.5" cy="288.6" r="6.7"/><circle cx="1437.2" cy="297.2" r="6.7"/><circle cx="1440.9" cy="305.9" r="6.7"/><circle cx="1444.5" cy="314.6" r="6.7"/><circle cx="1448.2" cy="323.2" r="6.7"/><circle cx="1442.7" cy="305.9" r="6.7"/><circle cx="1444.5" cy="305.9" r="6.7"/><circle cx="1446.3" cy="305.9" r="6.7"/><circle cx="1440.9" cy="288.6" r="6.7"/><circle cx="1444.5" cy="297.2" r="6.7"/><circle cx="1448.2" cy="305.9" r="6.7"/><circle cx="1451.8" cy="314.6" r="6.7"/><circle cx="1455.5" cy="323.2" r="6.7"/><circle cx="1450.0" cy="305.9" r="6.7"/><circle cx="1451.8" cy="305.9" r="6.7"/><circle cx="1453.7" cy="305.9" r="6.7"/><circle cx="1448.2" cy="288.6" r="6.7"/><circle cx="1451.8" cy="297.2" r="6.7"/><circle cx="1455.5" cy="305.9" r="6.7"/><circle cx="1459.1" cy="314.6" r="6.7"/><circle cx="1457.3" cy="305.9" r="6.7"/><circle cx="1459.1" cy="305.9" r="6.7"/><circle cx="1461.0" cy="305.9" r="6.7"/><circle cx="1459.1" cy="297.2" r="6.7"/><circle cx="1462.8" cy="305.9" r="6.7"/><circle cx="1466.5" cy="314.6" r="6.7"/><circle cx="1470.1" cy="323.2" r="6.7"/><circle cx="1464.6" cy="305.9" r="6.7"/><circle cx="1466.5" cy="305.9" r="6.7"/><circle cx="1468.3" cy="305.9" r="6.7"/><circle cx="1462.8" cy="288.6" r="6.7"/><circle cx="1466.5" cy="297.2" r="6.7"/><circle cx="1470.1" cy="305.9" r="6.7"/><circle cx="1473.8" cy="314.6" r="6.7"/><circle cx="1472.0" cy="305.9" r="6.7"/><circle cx="1473.8" cy="305.9" r="6.7"/><circle cx="1475.6" cy="305.9" r="6.7"/><circle cx="1473.8" cy="297.2" r="6.7"/><circle cx="1477.4" cy="305.9" r="6.7"/><circle cx="1481.1" cy="314.6" r="6.7"/><circle cx="1479.3" cy="305.9" r="6.7"/><circle cx="1481.1" cy="305.9" r="6.7"/><circle cx="1482.9" cy="305.9" r="6.7"/><circle cx="1477.4" cy="288.6" r="6.7"/><circle cx="1481.1" cy="297.2" r="6.7"/><circle cx="1484.8" cy="305.9" r="6.7"/><circle cx="1488.4" cy="314.6" r="6.7"/><circle cx="1492.1" cy="323.2" r="6.7"/><circle cx="1486.6" cy="305.9" r="6.7"/><circle cx="1488.4" cy="305.9" r="6.7"/><circle cx="1490.2" cy="305.9" r="6.7"/><circle cx="1484.8" cy="288.6" r="6.7"/><circle cx="1488.4" cy="297.2" r="6.7"/><circle cx="1492.1" cy="305.9" r="6.7"/><circle cx="1495.7" cy="314.6" r="6.7"/><circle cx="1499.4" cy="323.2" r="6.7"/><circle cx="1493.9" cy="305.9" r="6.7"/><circle cx="1495.7" cy="305.9" r="6.7"/><circle cx="1497.6" cy="305.9" r="6.7"/><circle cx="1495.7" cy="297.2" r="6.7"/><circle cx="1499.4" cy="305.9" r="6.7"/><circle cx="1503.1" cy="314.6" r="6.7"/><circle cx="1506.7" cy="323.2" r="6.7"/><circle cx="1501.2" cy="305.9" r="6.7"/><circle cx="1503.1" cy="305.9" r="6.7"/><circle cx="1504.9" cy="305.9" r="6.7"/><circle cx="1503.1" cy="297.2" r="6.7"/><circle cx="1506.7" cy="305.9" r="6.7"/><circle cx="1510.4" cy="314.6" r="6.7"/><circle cx="1508.5" cy="305.9" r="6.7"/><circle cx="1510.4" cy="305.9" r="6.7"/><circle cx="1512.2" cy="305.9" r="6.7"/><circle cx="1506.7" cy="288.6" r="6.7"/><circle cx="1510.4" cy="297.2" r="6.7"/><circle cx="1514.0" cy="305.9" r="6.7"/><circle cx="1517.7" cy="314.6" r="6.7"/><circle cx="1515.9" cy="305.9" r="6.7"/><circle cx="1517.7" cy="305.9" r="6.7"/><circle cx="1519.5" cy="305.9" r="6.7"/><circle cx="1514.0" cy="288.6" r="6.7"/><circle cx="1517.7" cy="297.2" r="6.7"/><circle cx="1521.3" cy="305.9" r="6.7"/><circle cx="1525.0" cy="314.6" r="6.7"/><circle cx="1528.7" cy="323.2" r="6.7"/><circle cx="1523.2" cy="305.9" r="6.7"/><circle cx="1525.0" cy="305.9" r="6.7"/><circle cx="1526.8" cy="305.9" r="6.7"/><circle cx="1525.0" cy="297.2" r="6.7"/><circle cx="1528.7" cy="305.9" r="6.7"/><circle cx="1532.3" cy="314.6" r="6.7"/><circle cx="1530.5" cy="305.9" r="6.7"/><circle cx="1532.3" cy="305.9" r="6.7"/><circle cx="1534.2" cy="305.9" r="6.7"/><circle cx="1532.3" cy="297.2" r="6.7"/><circle cx="1536.0" cy="305.9" r="6.7"/><circle cx="1539.6" cy="314.6" r="6.7"/><circle cx="1543.3" cy="323.2" r="6.7"/><circle cx="1537.8" cy="305.9" r="6.7"/><circle cx="1539.6" cy="305.9" r="6.7"/><circle cx="1541.5" cy="305.9" r="6.7"/><circle cx="1536.0" cy="288.6" r="6.7"/><circle cx="1539.6" cy="297.2" r="6.7"/><circle cx="1543.3" cy="305.9" r="6.7"/><circle cx="1547.0" cy="314.6" r="6.7"/><circle cx="1545.1" cy="305.9" r="6.7"/><circle cx="1547.0" cy="305.9" r="6.7"/><circle cx="1548.8" cy="305.9" r="6.7"/><circle cx="1543.3" cy="288.6" r="6.7"/><circle cx="1547.0" cy="297.2" r="6.7"/><circle cx="1550.6" cy="305.9" r="6.7"/><circle cx="1554.3" cy="314.6" r="6.7"/><circle cx="1557.9" cy="323.2" r="6.7"/><circle cx="1552.4" cy="305.9" r="6.7"/><circle cx="1554.3" cy="305.9" r="6.7"/><circle cx="1556.1" cy="305.9" r="6.7"/><circle cx="1550.6" cy="288.6" r="6.7"/><circle cx="1554.3" cy="297.2" r="6.7"/><circle cx="1557.9" cy="305.9" r="6.7"/><circle cx="1561.6" cy="314.6" r="6.7"/><circle cx="1559.8" cy="305.9" r="6.7"/><circle cx="1561.6" cy="305.9" r="6.7"/><circle cx="1563.4" cy="305.9" r="6.7"/><circle cx="1561.6" cy="297.2" r="6.7"/><circle cx="1565.3" cy="305.9" r="6.7"/><circle cx="1568.9" cy="314.6" r="6.7"/><circle cx="1567.1" cy="305.9" r="6.7"/><circle cx="1568.9" cy="305.9" r="6.7"/><circle cx="1570.7" cy="305.9" r="6.7"/><circle cx="1565.3" cy="288.6" r="6.7"/><circle cx="1568.9" cy="297.2" r="6.7"/><circle cx="1572.6" cy="305.9" r="6.7"/><circle cx="1576.2" cy="314.6" r="6.7"/><circle cx="1579.9" cy="323.2" r="6.7"/><circle cx="1574.4" cy="305.9" r="6.7"/><circle cx="1576.2" cy="305.9" r="6.7"/><circle cx="1578.1" cy="305.9" r="6.7"/><circle cx="1572.6" cy="288.6" r="6.7"/><circle cx="1576.2" cy="297.2" r="6.7"/><circle cx="1579.9" cy="305.9" r="6.7"/><circle cx="1583.5" cy="314.6" r="6.7"/><circle cx="1587.2" cy="323.2" r="6.7"/><circle cx="1581.7" cy="305.9" r="6.7"/><circle cx="1583.5" cy="305.9" r="6.7"/><circle cx="1585.4" cy="305.9" r="6.7"/><circle cx="1583.5" cy="297.2" r="6.7"/><circle cx="1587.2" cy="305.9" r="6.7"/><circle cx="1590.9" cy="314.6" r="6.7"/><circle cx="1589.0" cy="305.9" r="6.7"/><circle cx="1590.9" cy="305.9" r="6.7"/><circle cx="1592.7" cy="305.9" r="6.7"/><circle cx="1590.9" cy="297.2" r="6.7"/><circle cx="1594.5" cy="305.9" r="6.7"/><circle cx="1598.2" cy="314.6" r="6.7"/><circle cx="1596.4" cy="305.9" r="6.7"/><circle cx="1598.2" cy="305.9" r="6.7"/><circle cx="1600.0" cy="305.9" r="6.7"/><circle cx="1598.2" cy="297.2" r="6.7"/><circle cx="1601.8" cy="305.9" r="6.7"/><circle cx="1605.5" cy="314.6" r="6.7"/><circle cx="1603.7" cy="305.9" r="6.7"/><circle cx="1605.5" cy="305.9" r="6.7"/><circle cx="1607.3" cy="305.9" r="6.7"/><circle cx="1605.5" cy="297.2" r="6.7"/><circle cx="1609.2" cy="305.9" r="6.7"/><circle cx="1612.8" cy="314.6" r="6.7"/><circle cx="1611.0" cy="305.9" r="6.7"/><circle cx="1612.8" cy="305.9" r="6.7"/><circle cx="1614.6" cy="305.9" r="6.7"/><circle cx="1612.8" cy="297.2" r="6.7"/><circle cx="1616.5" cy="305.9" r="6.7"/><circle cx="1618.3" cy="305.9" r="6.7"/><circle cx="1620.1" cy="305.9" r="6.7"/><circle cx="1622.0" cy="305.9" r="6.7"/><circle cx="1623.8" cy="305.9" r="6.7"/><circle cx="1627.4" cy="314.6" r="6.7"/><circle cx="1625.6" cy="305.9" r="6.7"/><circle cx="1627.4" cy="305.9" r="6.7"/><circle cx="1629.3" cy="305.9" r="6.7"/><circle cx="1627.4" cy="297.2" r="6.7"/><circle cx="1631.1" cy="305.9" r="6.7"/><circle cx="1634.8" cy="314.6" r="6.7"/><circle cx="1632.9" cy="305.9" r="6.7"/><circle cx="1634.8" cy="305.9" r="6.7"/><circle cx="1636.6" cy="305.9" r="6.7"/><circle cx="1634.8" cy="297.2" r="6.7"/><circle cx="1638.4" cy="305.9" r="6.7"/><circle cx="1642.1" cy="314.6" r="6.7"/><circle cx="1640.3" cy="305.9" r="6.7"/><circle cx="1642.1" cy="305.9" r="6.7"/><circle cx="1643.9" cy="305.9" r="6.7"/><circle cx="1642.1" cy="297.2" r="6.7"/><circle cx="1645.7" cy="305.9" r="6.7"/><circle cx="1649.4" cy="314.6" r="6.7"/><circle cx="1647.6" cy="305.9" r="6.7"/><circle cx="1649.4" cy="305.9" r="6.7"/><circle cx="1651.2" cy="305.9" r="6.7"/><circle cx="1649.4" cy="297.2" r="6.7"/><circle cx="1653.1" cy="305.9" r="6.7"/><circle cx="1656.7" cy="314.6" r="6.7"/><circle cx="1654.9" cy="305.9" r="6.7"/><circle cx="1656.7" cy="305.9" r="6.7"/><circle cx="1658.5" cy="305.9" r="6.7"/><circle cx="1653.1" cy="288.6" r="6.7"/><circle cx="1656.7" cy="297.2" r="6.7"/><circle cx="1660.4" cy="305.9" r="6.7"/><circle cx="1664.0" cy="314.6" r="6.7"/><circle cx="1662.2" cy="305.9" r="6.7"/><circle cx="1664.0" cy="305.9" r="6.7"/><circle cx="1665.9" cy="305.9" r="6.7"/><circle cx="1664.0" cy="297.2" r="6.7"/><circle cx="1667.7" cy="305.9" r="6.7"/><circle cx="1671.4" cy="314.6" r="6.7"/><circle cx="1669.5" cy="305.9" r="6.7"/><circle cx="1671.4" cy="305.9" r="6.7"/><circle cx="1673.2" cy="305.9" r="6.7"/><circle cx="1671.4" cy="297.2" r="6.7"/><circle cx="1675.0" cy="305.9" r="6.7"/><circle cx="1682.3" cy="323.2" r="6.7"/><circle cx="1676.8" cy="305.9" r="6.7"/><circle cx="1678.7" cy="305.9" r="6.7"/><circle cx="1680.5" cy="305.9" r="6.7"/><circle cx="1678.7" cy="297.2" r="6.7"/><circle cx="1682.3" cy="305.9" r="6.7"/><circle cx="1686.0" cy="314.6" r="6.7"/><circle cx="1684.2" cy="305.9" r="6.7"/><circle cx="1686.0" cy="305.9" r="6.7"/><circle cx="1687.8" cy="305.9" r="6.7"/><circle cx="1689.6" cy="305.9" r="6.7"/><circle cx="1693.3" cy="314.6" r="6.7"/><circle cx="1691.5" cy="305.9" r="6.7"/><circle cx="1693.3" cy="305.9" r="6.7"/><circle cx="1695.1" cy="305.9" r="6.7"/><circle cx="1693.3" cy="297.2" r="6.7"/><circle cx="1697.0" cy="305.9" r="6.7"/><circle cx="1698.8" cy="305.9" r="6.7"/><circle cx="1700.6" cy="305.9" r="6.7"/><circle cx="1702.5" cy="305.9" r="6.7"/><circle cx="1700.6" cy="297.2" r="6.7"/><circle cx="1704.3" cy="305.9" r="6.7"/><circle cx="1706.1" cy="305.9" r="6.7"/><circle cx="1707.9" cy="305.9" r="6.7"/><circle cx="1709.8" cy="305.9" r="6.7"/><circle cx="1707.9" cy="297.2" r="6.7"/><circle cx="1711.6" cy="305.9" r="6.7"/><circle cx="1715.3" cy="314.6" r="6.7"/><circle cx="1715.3" cy="297.2" r="6.7"/><circle cx="1718.9" cy="305.9" r="6.7"/></g>
<g class="c"><circle cx="1060.4" cy="184.5" r="6.7"/><circle cx="1217.7" cy="540.1" r="6.7"/><circle cx="1162.8" cy="357.9" r="6.7"/><circle cx="1217.7" cy="488.1" r="6.7"/><circle cx="1137.2" cy="279.9" r="6.7"/><circle cx="1221.3" cy="479.4" r="6.7"/><circle cx="1115.2" cy="210.5" r="6.7"/><circle cx="1166.5" cy="331.9" r="6.7"/><circle cx="1089.6" cy="132.4" r="6.7"/><circle cx="1151.8" cy="279.9" r="6.7"/><circle cx="1243.3" cy="496.7" r="6.7"/><circle cx="1250.6" cy="410.0" r="6.7"/><circle cx="1257.9" cy="410.0" r="6.7"/><circle cx="1261.6" cy="401.3" r="6.7"/><circle cx="1265.2" cy="410.0" r="6.7"/><circle cx="1272.6" cy="375.3" r="6.7"/><circle cx="1268.9" cy="331.9" r="6.7"/><circle cx="1276.2" cy="331.9" r="6.7"/><circle cx="1283.5" cy="331.9" r="6.7"/><circle cx="1349.4" cy="470.7" r="6.7"/><circle cx="1364.0" cy="488.1" r="6.7"/><circle cx="1323.8" cy="375.3" r="6.7"/><circle cx="1375.0" cy="479.4" r="6.7"/><circle cx="1356.7" cy="418.7" r="6.7"/><circle cx="1356.7" cy="366.6" r="6.7"/><circle cx="1327.4" cy="227.8" r="6.7"/><circle cx="1397.0" cy="392.6" r="6.7"/><circle cx="1400.6" cy="401.3" r="6.7"/><circle cx="1378.7" cy="331.9" r="6.7"/><circle cx="1345.7" cy="219.2" r="6.7"/><circle cx="1367.7" cy="271.2" r="6.7"/><circle cx="1360.4" cy="201.8" r="6.7"/><circle cx="1389.6" cy="271.2" r="6.7"/><circle cx="1371.3" cy="210.5" r="6.7"/><circle cx="1382.3" cy="236.5" r="6.7"/><circle cx="1382.3" cy="219.2" r="6.7"/><circle cx="1466.5" cy="418.7" r="6.7"/><circle cx="1375.0" cy="184.5" r="6.7"/><circle cx="1393.3" cy="210.5" r="6.7"/><circle cx="1444.5" cy="331.9" r="6.7"/><circle cx="1400.6" cy="210.5" r="6.7"/><circle cx="1510.4" cy="470.7" r="6.7"/><circle cx="1514.0" cy="479.4" r="6.7"/><circle cx="1342.1" cy="54.3" r="6.7"/><circle cx="1367.7" cy="115.1" r="6.7"/><circle cx="1437.2" cy="279.9" r="6.7"/><circle cx="1386.0" cy="123.7" r="6.7"/><circle cx="1517.7" cy="331.9" r="6.7"/><circle cx="1466.5" cy="193.1" r="6.7"/><circle cx="1444.5" cy="123.7" r="6.7"/><circle cx="1473.8" cy="193.1" r="6.7"/><circle cx="1514.0" cy="253.9" r="6.7"/><circle cx="1517.7" cy="262.5" r="6.7"/><circle cx="1470.1" cy="132.4" r="6.7"/><circle cx="1514.0" cy="236.5" r="6.7"/><circle cx="1554.3" cy="331.9" r="6.7"/><circle cx="1503.1" cy="193.1" r="6.7"/><circle cx="1612.8" cy="401.3" r="6.7"/><circle cx="1536.0" cy="184.5" r="6.7"/><circle cx="1554.3" cy="210.5" r="6.7"/><circle cx="1557.9" cy="219.2" r="6.7"/><circle cx="1638.4" cy="410.0" r="6.7"/><circle cx="1642.1" cy="401.3" r="6.7"/><circle cx="1645.7" cy="410.0" r="6.7"/><circle cx="1565.3" cy="201.8" r="6.7"/><circle cx="1568.9" cy="210.5" r="6.7"/><circle cx="1656.7" cy="331.9" r="6.7"/><circle cx="1612.8" cy="210.5" r="6.7"/><circle cx="1627.4" cy="210.5" r="6.7"/></g>
<path d="M1001.0 266.0H1750.3" stroke="#0000ff" stroke-width="4.5" fill="none"/>
<path d="M1001.0 347.2H1750.3" stroke="#0000ff" stroke-width="4.5" fill="none"/>
<text class="lb" x="456.5" y="676" text-anchor="middle">True HR (<tspan font-style="italic">bpm</tspan>)</text>
<text class="lb" x="1358" y="676" text-anchor="middle">True HR (<tspan font-style="italic">bpm</tspan>)</text>
<text class="lb" transform="translate(25.5,317.7) rotate(-90)" text-anchor="middle">Estimated HR (<tspan font-style="italic">bpm</tspan>)</text>
<text class="lb" transform="translate(932,320.5) rotate(-90)" text-anchor="middle">Estimated HR − True HR (<tspan font-style="italic">bpm</tspan>)</text>
<text class="eq" transform="scale(1.120,1)" y="76.0" font-size="39"><tspan x="145.1" font-style="italic" font-size="45">r</tspan><tspan x="174.1">=</tspan><tspan x="208.0">0</tspan><tspan x="228.6">.</tspan><tspan x="243.7">9925</tspan><tspan x="331.2">(</tspan><tspan x="342.9" font-style="italic" font-size="45">r</tspan><tspan x="360.7" font-size="28" dy="-14">2</tspan><tspan x="386.6" font-size="39" dy="14">=</tspan><tspan x="421.4">0</tspan><tspan x="442.0">.</tspan><tspan x="456.2">9851</tspan><tspan x="537.1">)</tspan></text>
<text class="eq" transform="scale(1.120,1)" y="70.0" font-size="39"><tspan x="1232.1" font-style="italic">μ</tspan><tspan x="1262.5">+</tspan><tspan x="1295.5">1</tspan><tspan x="1315.2">.</tspan><tspan x="1329.5">96</tspan><tspan x="1368.7" font-style="italic">σ</tspan><tspan x="1398.2">=</tspan><tspan x="1431.2">4</tspan><tspan x="1451.8">.</tspan><tspan x="1466.1">0854</tspan></text>
<text class="eq" transform="scale(1.120,1)" y="546.0" font-size="39"><tspan x="1213.4" font-style="italic">μ</tspan><tspan x="1243.7">−</tspan><tspan x="1277.7">1</tspan><tspan x="1297.3">.</tspan><tspan x="1311.6">96</tspan><tspan x="1351.8" font-style="italic">σ</tspan><tspan x="1380.4">=</tspan><tspan x="1415.2">−</tspan><tspan x="1437.5">4</tspan><tspan x="1459.8">.</tspan><tspan x="1473.2">1484</tspan></text>
<rect x="756.6" y="528.3" width="68.8" height="60" fill="#fff" stroke="#9a9a9a" stroke-width="1.4"/><text class="pn" y="575.5"><tspan x="765.0">(</tspan><tspan x="780.3" font-size="57">a</tspan><tspan x="804.5">)</tspan></text>
<rect x="1015.5" y="528.3" width="69.9" height="60" fill="#fff" stroke="#9a9a9a" stroke-width="1.4"/><text class="pn" y="575.5"><tspan x="1022.5">(</tspan><tspan x="1036.8" font-size="57">b</tspan><tspan x="1064.3">)</tspan></text>
</svg>
</body></html>
